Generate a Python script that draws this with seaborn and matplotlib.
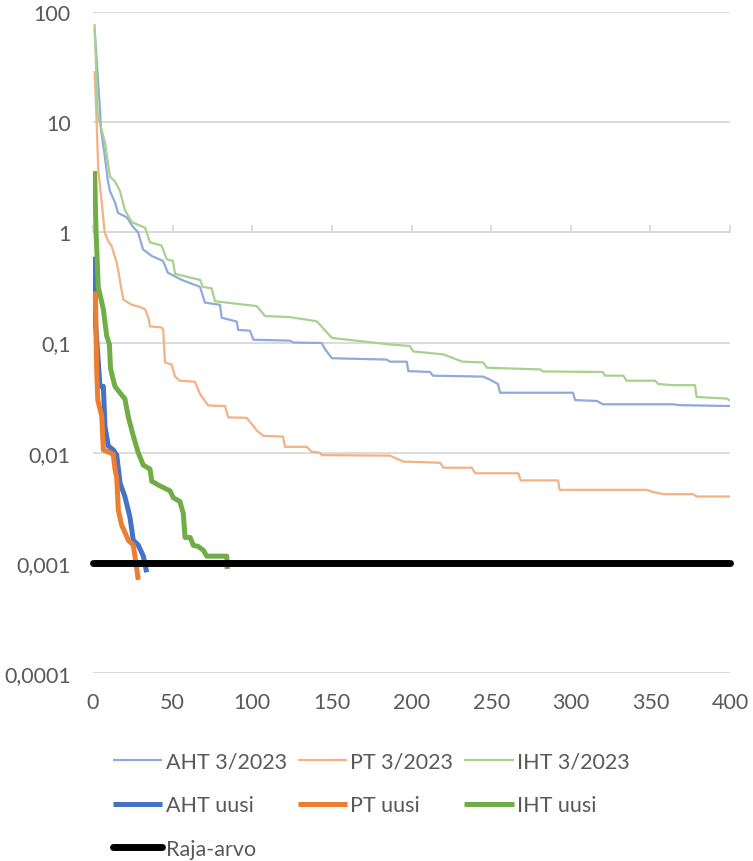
import pandas as pd
import matplotlib
matplotlib.use('Agg')
import matplotlib.pyplot as plt
import seaborn as sns

# Values (x = index, y = log scale value)
aht_old_x = [1, 4.4, 5, 7.1, 9.4, 10.7, 13.8, 15.7, 21.2, 25, 28.3, 31.4, 36.9, 44, 47, 55.7,
             67.2, 70.3, 79.7, 80.8, 90.2, 91.2, 98.6, 100.7, 123.7, 125.6, 143.6, 145.7, 150,
             184.4, 186.5, 197, 198, 211.6, 213.5, 245, 249.3, 254.3, 255.6, 301.4, 302.7, 316.3,
             320.2, 364, 368.6, 400]
aht_old_y = [70, 13, 8.6, 5.3, 2.9, 2.36, 1.87, 1.5, 1.37, 1.13, 1.0, 0.7, 0.61, 0.55, 0.43, 0.37,
             0.32, 0.23, 0.22, 0.168, 0.155, 0.13, 0.128, 0.106, 0.104, 0.10, 0.099, 0.087, 0.072,
             0.070, 0.067, 0.067, 0.055, 0.054, 0.050, 0.049, 0.046, 0.042, 0.035, 0.035, 0.030, 0.0295,
             0.0275, 0.0275, 0.027, 0.0265]

pt_old_x = [1, 2.3, 3.3, 5.5, 7.3, 9.6, 11.7, 14.9, 15.7, 19, 24.3, 29.5, 32.7, 34.7, 35.8, 43.1,
            44.1, 45.2, 49.4, 51.5, 54.6, 64, 67.2, 72.4, 82.9, 85, 96.5, 100.7, 102.8, 107, 119.3,
            120.6, 134.2, 137.3, 142.5, 143.6, 186.5, 194.8, 218, 220, 237.8, 240, 267, 268.6, 292,
            293, 347.7, 351.6, 358, 376.8, 379, 400]
pt_old_y = [29, 10, 3.7, 1.86, 1.0, 0.83, 0.75, 0.53, 0.46, 0.245, 0.22, 0.21, 0.20, 0.17, 0.14, 0.137,
            0.13, 0.066, 0.063, 0.049, 0.045, 0.044, 0.034, 0.0268, 0.0265, 0.0209, 0.0207, 0.0175,
            0.0159, 0.0142, 0.014, 0.0113, 0.0113, 0.0102, 0.0100, 0.0095, 0.0094, 0.0083, 0.0081,
            0.0073, 0.0073, 0.0065, 0.0065, 0.0056, 0.0056, 0.0046, 0.0046, 0.0044, 0.0042, 0.0042,
            0.0040, 0.0040]

iht_old_x = [1, 3, 7.5, 10.7, 13.8, 17, 20, 24.3, 32.7, 35.8, 43, 46.3, 50.2, 51.5, 67.2, 69, 74.5,
             76.6, 102.8, 108, 123.7, 140.5, 150, 186.5, 199, 201, 220, 232, 245, 247.4, 280.7,
             282.6, 320, 321.5, 333, 335, 353, 355, 364, 378, 379, 398, 400]
iht_old_y = [78, 11.4, 6.6, 3.2, 2.9, 2.36, 1.6, 1.24, 1.1, 0.81, 0.76, 0.57, 0.55, 0.42, 0.37, 0.32,
             0.31, 0.237, 0.214, 0.174, 0.17, 0.156, 0.11, 0.096, 0.093, 0.083, 0.078, 0.067, 0.066,
             0.059, 0.057, 0.0546, 0.054, 0.050, 0.050, 0.045, 0.045, 0.042, 0.041, 0.041, 0.032,
             0.031, 0.0295]

aht_new_x = [1, 1.3, 3.3, 4.4, 6.5, 7.5, 9.6, 12.7, 14.9, 17, 20, 23.2, 25.3, 28.4, 31.6, 33.7]
aht_new_y = [0.6, 0.17, 0.067, 0.040, 0.040, 0.0174, 0.0115, 0.0106, 0.0095, 0.0053, 0.004,
             0.0026, 0.0016, 0.00145, 0.00115, 0.00082]

pt_new_x = [1, 1.5, 2.3, 3, 5.5, 6.5, 12.7, 13.8, 14.9, 15.9, 18, 20, 22.2, 25.3, 27.4, 28.4]
pt_new_y = [0.29, 0.28, 0.058, 0.030, 0.0215, 0.0106, 0.0097, 0.0071, 0.0059, 0.0030, 0.0022,
            0.0019, 0.0016, 0.00145, 0.0009, 0.0007]

iht_new_x = [1, 1.9, 2.3, 3.3, 6.5, 8.6, 10.3, 11, 12.7, 13.8, 19, 20, 22.2, 25.3, 28.4, 31.6,
             35.8, 36.9, 42, 48.4, 50.4, 54.6, 56.7, 57.8, 61, 63, 66, 69.3, 71.4, 84, 84.3]
iht_new_y = [3.6, 1.0, 0.75, 0.32, 0.2, 0.115, 0.096, 0.058, 0.046, 0.040, 0.032, 0.031, 0.021,
             0.0142, 0.0100, 0.0077, 0.0071, 0.0055, 0.0050, 0.0045, 0.0039, 0.0036, 0.0028, 0.0017,
             0.0017, 0.00144, 0.00141, 0.0013, 0.00115, 0.00115, 0.00088]

limit_x = [0, 400]
limit_y = [0.001, 0.001]

y_ticks = [0.0001, 0.001, 0.01, 0.1, 1, 10, 100]
y_tick_labels = ['0,0001', '0,001', '0,01', '0,1', '1', '10', '100']
x_ticks = [0, 50, 100, 150, 200, 250, 300, 350, 400]

series = [
    ('AHT 3/2023', aht_old_x, aht_old_y, '#8FAADC', 1.6),
    ('PT 3/2023', pt_old_x, pt_old_y, '#F4B183', 1.6),
    ('IHT 3/2023', iht_old_x, iht_old_y, '#A9D18E', 1.6),
    ('AHT uusi', aht_new_x, aht_new_y, '#4472C4', 3.6),
    ('PT uusi', pt_new_x, pt_new_y, '#ED7D31', 3.6),
    ('IHT uusi', iht_new_x, iht_new_y, '#70AD47', 3.6),
    ('Raja-arvo', limit_x, limit_y, '#000000', 5.0),
]

sns.set_theme(style='white')
plt.rcParams['font.family'] = ['Lato', 'DejaVu Sans']
text_color = '#595959'
grid_color = '#D9D9D9'
fsize = 15.5

fig = plt.figure(figsize=(7.53, 8.62), dpi=100)
ax = fig.add_axes([0.1235, 0.2181, 0.846, 0.7668])

handles = {}
for name, xs, ys, color, lw in series:
    df = pd.DataFrame({'x': xs, 'y': ys})
    sns.lineplot(data=df, x='x', y='y', ax=ax, color=color, linewidth=lw,
                 sort=False, estimator=None, label=name)
    line = ax.get_lines()[-1]
    line.set_solid_capstyle('round' if name == 'Raja-arvo' else 'butt')
    if name == 'Raja-arvo':
        line.set_clip_on(False)
    handles[name] = line

ax.set_yscale('log')
ax.set_xlim(0, 400)
ax.set_ylim(0.0001, 100)
ax.set_yticks(y_ticks)
ax.set_yticklabels(y_tick_labels)
ax.minorticks_off()
ax.set_xticks(x_ticks)
ax.set_xlabel('')
ax.set_ylabel('')
ax.grid(False)
for y in y_ticks:
    ax.axhline(y, color=grid_color, linewidth=1.3, zorder=0)
for s in ax.spines.values():
    s.set_visible(False)
ax.tick_params(axis='both', length=0, labelsize=fsize, labelcolor=text_color)
ax.tick_params(axis='x', pad=14)
ax.tick_params(axis='y', pad=16)

# horizontal axis crosses at 1 with small upward ticks
sec = ax.secondary_xaxis(2 / 3)
sec.set_xticks(x_ticks)
sec.tick_params(axis='x', direction='out', length=5, width=1.3, color=grid_color,
                labeltop=False, labelbottom=False)
for s in sec.spines.values():
    s.set_color(grid_color)
    s.set_linewidth(1.3)

ax.get_legend().remove()
order = ['AHT 3/2023', 'AHT uusi', 'Raja-arvo', 'PT 3/2023', 'PT uusi', 'IHT 3/2023', 'IHT uusi']
leg = fig.legend([handles[k] for k in order], order, loc='upper left',
                 bbox_to_anchor=(0.150, 0.127), ncol=3, frameon=False, fontsize=fsize,
                 handlelength=2.3, handletextpad=0.15, columnspacing=0.5,
                 labelspacing=1.1, borderpad=0, borderaxespad=0)
for t in leg.get_texts():
    t.set_color(text_color)

fig.savefig('out.png', dpi=100)
